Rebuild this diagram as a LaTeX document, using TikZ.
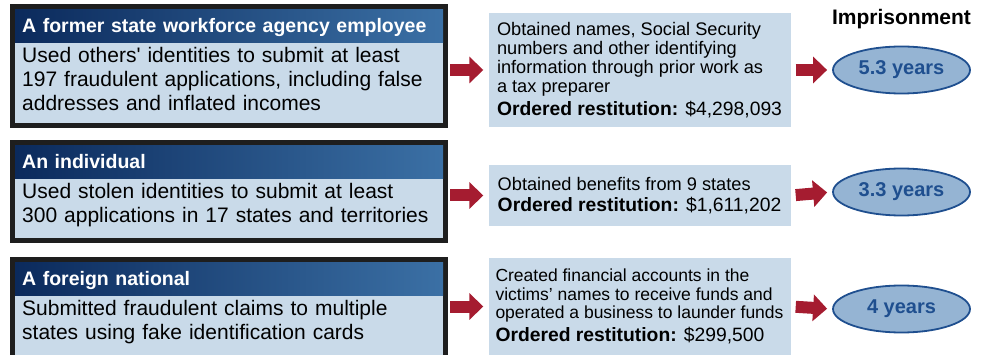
\documentclass[tikz,border=0pt]{standalone}
\usepackage{fontspec}
\setmainfont{Liberation Sans}
\usetikzlibrary{positioning,shapes.geometric,arrows.meta}

\definecolor{caseedge}{HTML}{1E1E1E}
\definecolor{headdark}{HTML}{0B2A5C}
\definecolor{headlight}{HTML}{3B70A5}
\definecolor{paleblue}{HTML}{C9DAE9}
\definecolor{termfill}{HTML}{95B4D3}
\definecolor{termedge}{HTML}{1F4F8F}
\definecolor{flowred}{HTML}{A51C30}

\newcommand{\restitution}[1]{{\fontsize{19.3}{23}\selectfont\textbf{Ordered restitution:} \$#1}}

\tikzset{
  casebox/.style={draw=caseedge, line width=5pt, fill=paleblue, minimum width=433pt, inner sep=0pt, outer sep=0pt},
  casehead/.style={left color=headdark, right color=headlight, text=white, font=\bfseries\fontsize{19.5}{22}\selectfont, minimum width=428pt, minimum height=33pt, text width=414pt, inner xsep=7pt, inner ysep=0pt, text height=14.5pt, text depth=1.5pt, align=left, anchor=north west},
  casetext/.style={font=\fontsize{21}{24}\selectfont, text width=414pt, inner xsep=7pt, inner ysep=0pt, align=left, anchor=north west},
  method/.style={fill=paleblue, minimum width=302pt, inner sep=0pt, align=left, font=\fontsize{18.2}{19}\selectfont},
  term/.style={ellipse, draw=termedge, line width=1.8pt, fill=termfill, minimum width=137pt, minimum height=47pt, text=termedge, font=\bfseries\fontsize{20}{22}\selectfont},
  redflow/.style={flowred, line width=12pt, -{Triangle[length=14pt, width=26pt]}}
}

\begin{document}
\begin{tikzpicture}[x=1pt, y=-1pt]
    \useasboundingbox (0,0) rectangle (987,355);
    \clip (0,0) rectangle (987,355);

    \node [casebox, minimum height=119pt] at (229,66)    (case1) {};
    \node [casebox, minimum height=98pt]  at (229,191.5) (case2) {};
    \node [casebox, minimum height=120pt] at (229,319.5) (case3) {};

    \node [casehead] at ([xshift=2.5pt, yshift=-2.5pt]case1.north west) (head1) {A former state workforce agency employee};
    \node [casehead] at ([xshift=2.5pt, yshift=-2.5pt]case2.north west) (head2) {An individual};
    \node [casehead] at ([xshift=2.5pt, yshift=-2.5pt]case3.north west) (head3) {A foreign national};

    \node [casetext] at ([yshift=-5pt]head1.south west) (text1) {Used others\textquotesingle{} identities to submit at least\\ 197 fraudulent applications, including false\\ addresses and inflated incomes};
    \node [casetext] at ([yshift=-5pt]head2.south west) (text2) {Used stolen identities to submit at least\\ 300 applications in 17 states and territories};
    \node [casetext] at ([yshift=-5pt]head3.south west) (text3) {Submitted fraudulent claims to multiple\\ states using fake identification cards};

    \node [method, minimum height=114pt] at (639.5,70)  (means1) {Obtained names, Social Security\\ numbers and other identifying\\ information through prior work as\\ a tax preparer\\[4pt] \restitution{4,298,093}};
    \node [method, minimum height=61pt]  at (639.5,195.5) (means2) {Obtained benefits from 9 states\\[2pt] \restitution{1,611,202}};
    \node [method, minimum height=97pt, font=\fontsize{17.5}{18.5}\selectfont] at (639.5,306.5) (means3) {Created financial accounts in the\\ victims’ names to receive funds and\\ operated a business to launder funds\\[4pt] \restitution{299,500}};

    \node [term] at (901.5,70)  (term1) {5.3 years};
    \node [term] at (901.5,192) (term2) {3.3 years};
    \node [term] at (901.5,309) (term3) {4 years};

    \node [above=17pt of term1, inner sep=0pt, font=\bfseries\fontsize{21}{22}\selectfont] (prison) {Imprisonment};

    \draw [redflow, shorten <=4.5pt, shorten >=5pt] (case1.east |- means1.west) -- (means1.west);
    \draw [redflow, shorten <=4.5pt, shorten >=5pt] (case2.east |- means2.west) -- (means2.west);
    \draw [redflow, shorten <=4.5pt, shorten >=5pt] (case3.east |- means3.west) -- (means3.west);

    \draw [redflow, shorten <=5pt, shorten >=5pt] (means1.east) -- (term1.west);
    \draw [redflow, shorten <=5pt, shorten >=5pt] (means2.east) -- (term2.west);
    \draw [redflow, shorten <=5pt, shorten >=5pt] (means3.east) -- (term3.west);
\end{tikzpicture}
\end{document}
